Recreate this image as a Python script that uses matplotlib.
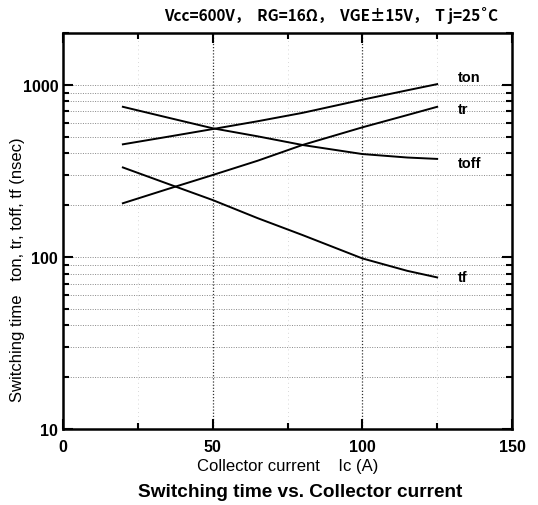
import matplotlib
matplotlib.use("Agg")
import matplotlib.pyplot as plt
from matplotlib.ticker import FixedLocator, NullFormatter, LogLocator

plt.rcParams['font.family'] = ['Liberation Sans', 'DejaVu Sans']

# collector current (A)
ic = [20, 35, 50, 65, 80, 100, 115, 125]
# switching times (nsec)
t_on = [451, 499, 553, 614, 687, 819, 929, 1009]
t_r = [205, 248, 299, 362, 447, 566, 667, 745]
t_off = [745, 645, 559, 502, 447, 396, 378, 371]
t_f = [331, 266, 214, 168, 134, 98, 83, 76]

curves = [(t_on, "ton", 1113), (t_r, "tr", 726), (t_off, "toff", 353), (t_f, "tf", 76)]

fig = plt.figure(figsize=(5.38, 5.06), dpi=100)
ax = fig.add_axes([63 / 538, 1 - 430 / 506, (512 - 63) / 538, (430 - 34) / 506])

ax.set_yscale("log")
ax.set_xlim(0, 150)
ax.set_ylim(10, 2000)

for vals, name, ly in curves:
    ax.plot(ic, vals, color="black", lw=1.4)
    ax.text(132, ly, name, fontsize=10.5, fontweight="bold", va="center", ha="left")

# grid
minor_y = [v * d for d in (10, 100, 1000) for v in range(2, 10) if v * d < 2000]
for v in minor_y + [100, 1000]:
    ax.axhline(v, color="#888888", lw=0.7, ls=(0, (1, 1.5)), zorder=0)
for v in (50, 100):
    ax.axvline(v, color="#333333", lw=0.9, ls=(0, (1, 1.5)), zorder=0)
for v in (25, 75, 125):
    ax.axvline(v, color="#cccccc", lw=0.6, ls=(0, (1, 4)), zorder=0)

ax.xaxis.set_major_locator(FixedLocator([0, 50, 100, 150]))
ax.xaxis.set_minor_locator(FixedLocator([25, 75, 125]))
ax.yaxis.set_major_locator(FixedLocator([10, 100, 1000]))
ax.yaxis.set_minor_locator(LogLocator(base=10, subs=range(2, 10)))
ax.yaxis.set_minor_formatter(NullFormatter())
ax.set_yticklabels(["10", "100", "1000"])

ax.tick_params(which="both", direction="in", top=True, right=True, width=1.5, labelsize=11.5)
ax.tick_params(which="major", length=7)
ax.tick_params(which="minor", length=4)
ax.tick_params(axis="x", pad=7)
for lab in ax.get_xticklabels() + ax.get_yticklabels():
    lab.set_fontweight("bold")
for s in ax.spines.values():
    s.set_linewidth(1.8)

ax.set_xlabel("Collector current    Ic (A)", fontsize=12, labelpad=3)
fig.text(18 / 538, 1 - 270 / 506, "Switching time   ton, tr, toff, tf (nsec)",
         rotation=90, fontsize=12, ha="center", va="center")

fig.text(331 / 538, 1 - 15 / 506, "Vcc=600V，  RG=16Ω，  VGE±15V，  T j=25˚C",
         fontsize=11, fontweight="bold", ha="center", va="center",
         family=["Noto Sans CJK JP", "DejaVu Sans"])
fig.text(300 / 538, 1 - 493 / 506, "Switching time vs. Collector current",
         fontsize=13.7, fontweight="bold", ha="center", va="center")

fig.savefig("out.png", dpi=100)
